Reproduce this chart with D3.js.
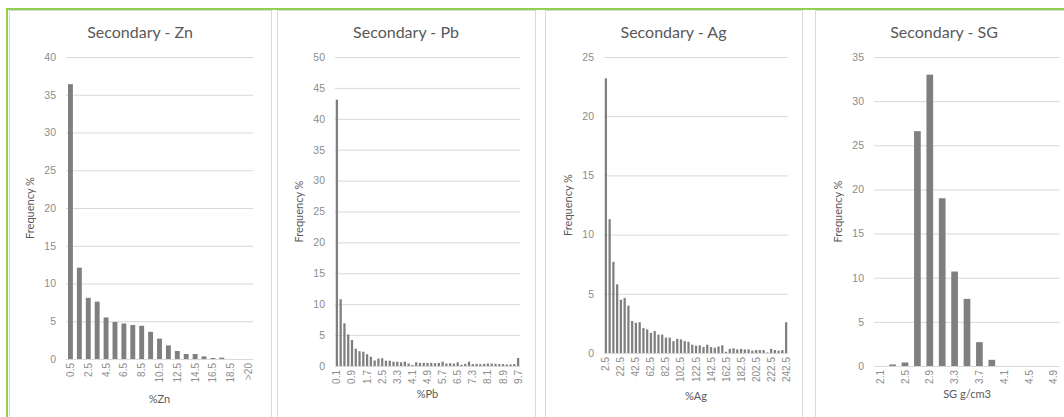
<!DOCTYPE html>
<html>
<head>
<meta charset="utf-8">
<script src="https://cdn.jsdelivr.net/npm/d3@7"></script>
<style>
    body { margin: 0; background: #fff; }
    svg { display: block; font-family: Lato, "Open Sans", sans-serif; }
    .grid line { stroke: #d9d9d9; }
    .tick text { fill: #8c8c8c; }
</style>
</head>
<body>
<svg id="chart" width="1064" height="417"></svg>
<script>
// ---- data ----
const znBins = ["0.5","1.5","2.5","3.5","4.5","5.5","6.5","7.5","8.5","9.5","10.5",
    "11.5","12.5","13.5","14.5","15.5","16.5","17.5","18.5","19.5",">20"];
const znFreq = [36.4,12.1,8.1,7.6,5.5,4.9,4.7,4.5,4.4,3.6,2.7,
    1.8,1.06,0.66,0.66,0.35,0.13,0.18,0,0,0];
const znTicks = ["0.5","2.5","4.5","6.5","8.5","10.5","12.5","14.5","16.5","18.5",">20"];
const znYTicks = [0,5,10,15,20,25,30,35,40];

const pbBins = ["0.1","0.3","0.5","0.7","0.9","1.1","1.3","1.5","1.7","1.9",
    "2.1","2.3","2.5","2.7","2.9","3.1","3.3","3.5","3.7","3.9",
    "4.1","4.3","4.5","4.7","4.9","5.1","5.3","5.5","5.7","5.9",
    "6.1","6.3","6.5","6.7","6.9","7.1","7.3","7.5","7.7","7.9",
    "8.1","8.3","8.5","8.7","8.9","9.1","9.3","9.5","9.7"];
const pbFreq = [43.1,10.8,6.9,5.1,4.2,2.8,2.4,2.3,1.9,1.5,
    0.9,1.2,1.25,0.85,0.85,0.7,0.7,0.6,0.7,0.4,
    0.15,0.6,0.5,0.5,0.5,0.5,0.45,0.5,0.7,0.4,
    0.45,0.4,0.6,0.2,0.35,0.7,0.3,0.35,0.3,0.35,
    0.4,0.4,0.35,0.3,0.3,0.25,0.25,0.3,1.3];
const pbTicks = ["0.1","0.9","1.7","2.5","3.3","4.1","4.9","5.7","6.5","7.3","8.1","8.9","9.7"];
const pbYTicks = [0,5,10,15,20,25,30,35,40,45,50];

const agBins = ["2.5","7.5","12.5","17.5","22.5","27.5","32.5","37.5","42.5","47.5",
    "52.5","57.5","62.5","67.5","72.5","77.5","82.5","87.5","92.5","97.5",
    "102.5","107.5","112.5","117.5","122.5","127.5","132.5","137.5","142.5","147.5",
    "152.5","157.5","162.5","167.5","172.5","177.5","182.5","187.5","192.5","197.5",
    "202.5","207.5","212.5","217.5","222.5","227.5","232.5","237.5","242.5"];
const agFreq = [23.2,11.3,7.7,5.8,4.5,4.65,4.0,2.7,2.55,2.6,
    2.1,2.0,1.7,1.85,1.55,1.55,1.3,1.3,1.0,1.2,
    1.15,1.0,0.95,0.7,0.62,0.65,0.5,0.7,0.5,0.45,
    0.55,0.65,0.1,0.35,0.4,0.3,0.35,0.3,0.3,0.2,
    0.25,0.25,0.25,0.05,0.35,0.25,0.2,0.25,2.6];
const agTicks = ["2.5","22.5","42.5","62.5","82.5","102.5","122.5","142.5","162.5","182.5","202.5","222.5","242.5"];
const agYTicks = [0,5,10,15,20,25];

const sgBins = ["2.1","2.3","2.5","2.7","2.9","3.1","3.3","3.5","3.7","3.9","4.1","4.3","4.5","4.7","4.9"];
const sgFreq = [0,0.17,0.4,26.6,33.0,19.0,10.7,7.6,2.7,0.7,0,0,0,0,0];
const sgTicks = ["2.1","2.5","2.9","3.3","3.7","4.1","4.5","4.9"];
const sgYTicks = [0,5,10,15,20,25,30,35];

(function() {

const svg = d3.select("#chart");

// layout of each chart (positions only, data comes from the arrays above)
const panels = [
    { title: "Secondary - Zn", xTitle: "%Zn", cats: znBins, vals: znFreq, ticks: znTicks, yTicks: znYTicks,
      box: [9, 271], x0: 66, x1: 253, y0: 57, y1: 359, xTitleY: 403, pad: 0.45 },
    { title: "Secondary - Pb", xTitle: "%Pb", cats: pbBins, vals: pbFreq, ticks: pbTicks, yTicks: pbYTicks,
      box: [277, 535], x0: 335, x1: 520, y0: 57, y1: 366, xTitleY: 398, pad: 0.4 },
    { title: "Secondary - Ag", xTitle: "%Ag", cats: agBins, vals: agFreq, ticks: agTicks, yTicks: agYTicks,
      box: [545, 802], x0: 604, x1: 788, y0: 57, y1: 353, xTitleY: 400, pad: 0.4 },
    { title: "Secondary - SG", xTitle: "SG g/cm3", cats: sgBins, vals: sgFreq, ticks: sgTicks, yTicks: sgYTicks,
      box: [815, 1073], x0: 874, x1: 1060, y0: 57, y1: 366, xTitleY: 398, pad: 0.46 }
];

// chart area borders
panels.forEach(function(p) {
    svg.append("rect")
        .attr("x", p.box[0] + 0.5)
        .attr("y", 10.5)
        .attr("width", p.box[1] - p.box[0])
        .attr("height", 420)
        .attr("fill", "#fff")
        .attr("stroke", "#d9d9d9");
});

// green frame round the whole picture
svg.append("path")
    .attr("d", "M7,420 V9 H1070")
    .attr("fill", "none")
    .attr("stroke", "#92d050")
    .attr("stroke-width", 2);

panels.forEach(drawPanel);

/**
 * Draw one histogram
 */

function drawPanel(p) {
    const g = svg.append("g");

    const x = d3.scaleBand()
        .domain(p.cats)
        .range([p.x0, p.x1])
        .paddingInner(p.pad)
        .paddingOuter(p.pad / 2);

    const y = d3.scaleLinear()
        .domain([0, d3.max(p.yTicks)])
        .range([p.y1, p.y0]);

    // gridlines + y labels
    g.append("g")
        .attr("class", "grid")
        .attr("transform", "translate(" + p.x0 + ",0)")
        .call(d3.axisLeft(y)
            .tickValues(p.yTicks)
            .tickSize(-(p.x1 - p.x0))
            .tickPadding(10))
        .call((a) => a.select(".domain").remove())
        .selectAll("text")
        .attr("font-size", 10.5)
        .attr("font-family", null);

    // bars
    g.append("g")
        .selectAll("rect")
        .data(p.cats)
        .enter().append("rect")
        .attr("x", (d) => x(d))
        .attr("width", x.bandwidth())
        .attr("y", (d, i) => y(p.vals[i]))
        .attr("height", (d, i) => y(0) - y(p.vals[i]))
        .attr("fill", "#7f7f7f");

    // category axis
    const xa = g.append("g")
        .attr("transform", "translate(0," + p.y1 + ")")
        .call(d3.axisBottom(x).tickValues(p.ticks).tickSize(0));

    xa.select(".domain")
        .attr("d", "M" + p.x0 + ",0.5H" + p.x1)
        .attr("stroke", "#d9d9d9");

    xa.selectAll("text")
        .attr("transform", "rotate(-90)")
        .attr("x", -4)
        .attr("y", 0)
        .attr("dy", "0.35em")
        .attr("font-size", 10)
        .attr("font-family", null)
        .style("text-anchor", "end");

    // titles
    g.append("text")
        .attr("x", (p.box[0] + p.box[1]) / 2)
        .attr("y", 38)
        .attr("text-anchor", "middle")
        .attr("font-size", 16)
        .attr("fill", "#595959")
        .text(p.title);

    g.append("text")
        .attr("x", (p.x0 + p.x1) / 2)
        .attr("y", p.xTitleY)
        .attr("text-anchor", "middle")
        .attr("font-size", 11)
        .attr("fill", "#595959")
        .text(p.xTitle);

    g.append("text")
        .attr("transform", "translate(" + (p.x0 - 32) + "," + ((p.y0 + p.y1) / 2) + ") rotate(-90)")
        .attr("text-anchor", "middle")
        .attr("font-size", 11)
        .attr("fill", "#595959")
        .text("Frequency %");
}

})();
</script>
</body>
</html>
